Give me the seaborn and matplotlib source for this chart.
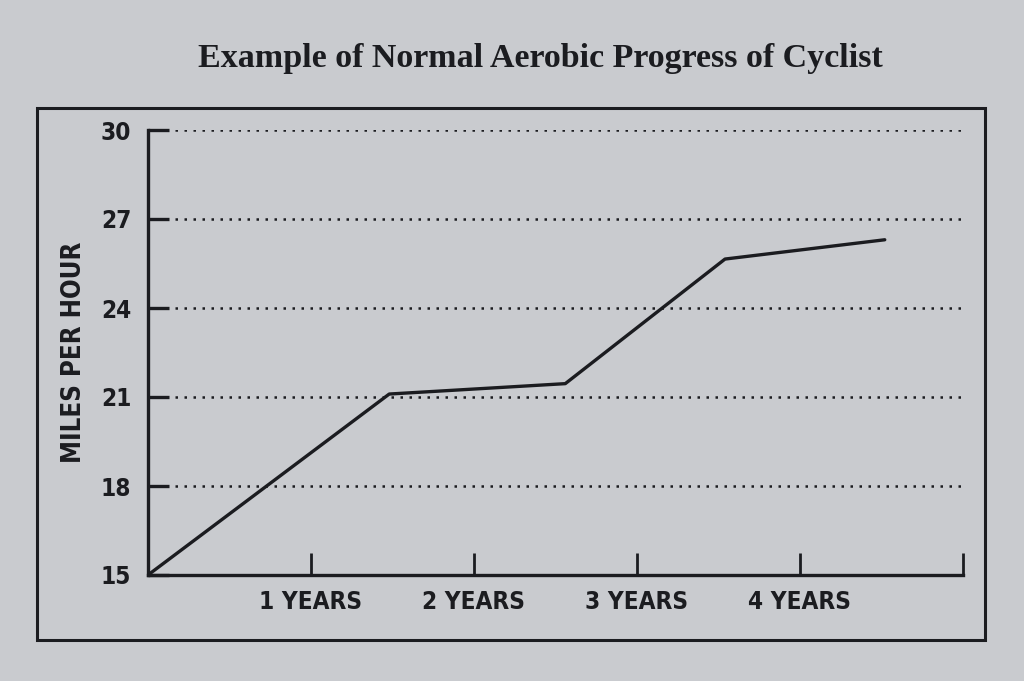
import matplotlib.pyplot as plt
import matplotlib.patches as mpatches
import pandas as pd
import seaborn as sns

# values
years = [0.0, 1.48, 2.56, 3.54, 4.52]
mph = [15.0, 21.1, 21.45, 25.65, 26.3]
y_ticks = [15, 18, 21, 24, 27, 30]
x_ticks = [1, 2, 3, 4, 5]
x_labels = ["1 YEARS", "2 YEARS", "3 YEARS", "4 YEARS", ""]

paper = "#c9cbcf"
ink = "#1b1c20"

sns.set_style("ticks")
narrow = ["DejaVu Sans", "Liberation Sans"]

df = pd.DataFrame({"years": years, "mph": mph})

fig = plt.figure(figsize=(10.24, 6.81), dpi=100, facecolor=paper)
ax = fig.add_axes([148 / 1024, 1 - 575 / 681, (963 - 148) / 1024, (575 - 130) / 681])
ax.set_facecolor(paper)

sns.lineplot(data=df, x="years", y="mph", ax=ax, color=ink, linewidth=2.4)

ax.set_xlim(0, 5)
ax.set_ylim(15, 30)
ax.set_yticks(y_ticks)
ax.set_xticks(x_ticks)
ax.set_xticklabels(x_labels)

for y in y_ticks[1:]:
    ax.axhline(y, xmin=0.0, xmax=1.0, color=ink, linestyle=(0, (1, 2.6)), linewidth=1.8, zorder=0)

for side in ["top", "right"]:
    ax.spines[side].set_visible(False)
for side in ["left", "bottom"]:
    ax.spines[side].set_linewidth(2.4)
    ax.spines[side].set_color(ink)

ax.tick_params(axis="y", direction="in", length=15, width=2.4, color=ink, pad=12)
ax.tick_params(axis="x", direction="in", length=16, width=2.0, color=ink, pad=11)
for lab in ax.get_yticklabels() + ax.get_xticklabels():
    lab.set_fontfamily(narrow)
    lab.set_fontstretch("condensed")
    lab.set_fontweight("heavy")
    lab.set_fontsize(17.5)
    lab.set_color(ink)

ax.set_xlabel("")
ax.set_ylabel("MILES PER HOUR", fontfamily=narrow, fontstretch="condensed", fontweight="heavy",
              fontsize=18.5, color=ink, labelpad=10)

# outer frame around the figure
frame = mpatches.Rectangle((37 / 1024, 1 - 640 / 681), (985 - 37) / 1024, (640 - 108) / 681,
                           transform=fig.transFigure, fill=False, edgecolor=ink, linewidth=2.2)
fig.patches.append(frame)

fig.text(540 / 1024, 1 - 58 / 681, "Example of Normal Aerobic Progress of Cyclist",
         ha="center", va="center", fontfamily=["Liberation Serif", "DejaVu Serif"],
         fontweight="bold", fontsize=24.5, color=ink)

fig.savefig("out.png", dpi=100, facecolor=paper)
